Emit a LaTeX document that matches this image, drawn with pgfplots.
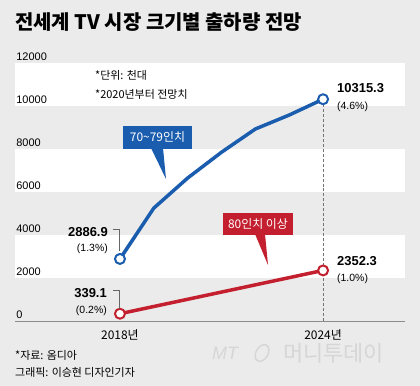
\documentclass[border=0pt]{standalone}
\usepackage{fontspec}
\setmainfont{Liberation Sans}
\newfontfamily\kr{Noto Sans CJK KR}
\usepackage{pgfplots}
\pgfplotsset{compat=1.18}
\definecolor{bg}{HTML}{EBEBEB}
\definecolor{tvblue}{HTML}{1A5CAD}
\definecolor{tvred}{HTML}{C41F2E}
\begin{document}
\begin{tikzpicture}
\fill[bg] (0,0) rectangle (420bp,386bp);
\begin{axis}[
 at={(15bp,65bp)}, anchor=south west, scale only axis, width=390bp, height=258bp,
 xmin=2014.9, xmax=2026.42, ymin=0, ymax=12000,
 axis on top,
 axis x line=bottom, axis y line=left,
 x axis line style={-, draw=black!45, line width=0.6bp},
 y axis line style={draw=none},
 tick style={draw=none},
 xtick={2018,2024}, xticklabels={2018년,2024년},
 xticklabel style={font=\kr\fontsize{12}{12}\selectfont, yshift=-3bp},
 ytick={0,2000,4000,6000,8000,10000,12000},
 yticklabel style={anchor=south west, font=\fontsize{11}{11}\selectfont, xshift=0bp, yshift=-1bp},
 /pgf/number format/assume math mode=true,
 /pgf/number format/1000 sep={},
 scaled y ticks=false,
 clip=false,
]
\fill[white] (axis cs:2014.9,2000) rectangle (axis cs:2026.42,4000);
\fill[white] (axis cs:2014.9,6000) rectangle (axis cs:2026.42,8000);
\fill[white] (axis cs:2014.9,10000) rectangle (axis cs:2026.42,12000);
\addplot[draw=black!55, densely dashed, line width=0.6bp, forget plot] coordinates {(2024,0) (2024,10315.3)};
\addplot[tvblue, line width=3.5bp, line join=round, mark=*, mark size=5bp, mark indices={1,7}, mark options={fill=white, line width=2bp, solid}] coordinates {
(2018,2886.9) (2019,5250) (2020,6650) (2021,7850) (2022,8930) (2023,9580) (2024,10315.3)};
\addplot[tvred, line width=3.5bp, line join=round, mark=*, mark size=5bp, mark options={fill=white, line width=2bp, solid}] coordinates {
(2018,339.1) (2024,2352.3)};
\end{axis}
\begin{scope}[yshift=386bp, x=1bp, y=-1bp]
\node[anchor=west, inner sep=0, font=\kr\bfseries\fontsize{20}{20}\selectfont] at (15,22) {전세계 TV 시장 크기별 출하량 전망};
\node[anchor=west, inner sep=0, font=\kr\fontsize{11}{12}\selectfont] at (95,75) {*단위: 천대};
\node[anchor=west, inner sep=0, font=\kr\fontsize{11}{12}\selectfont] at (95,94) {*2020년부터 전망치};
% callouts
\fill[tvblue] (123,126) rectangle (192,149);
\fill[tvblue] (151,148) -- (163,148) -- (166,179) -- cycle;
\node[white, inner sep=0, font=\kr\fontsize{12}{12}\selectfont] at (157.5,137.5) {70\textasciitilde79인치};
\fill[tvred] (223,213) rectangle (293,235);
\fill[tvred] (255,234) -- (265,234) -- (268,265) -- cycle;
\node[white, inner sep=0, font=\kr\fontsize{12}{12}\selectfont] at (258,224) {80인치 이상};
% value labels
\node[anchor=west, inner sep=0, font=\bfseries\fontsize{13}{13}\selectfont] at (337,88) {10315.3};
\node[anchor=west, inner sep=0, font=\fontsize{10.5}{11}\selectfont] at (337,107) {(4.6\%)};
\node[anchor=west, inner sep=0, font=\bfseries\fontsize{13}{13}\selectfont] at (337,261) {2352.3};
\node[anchor=west, inner sep=0, font=\fontsize{10.5}{11}\selectfont] at (337,279) {(1.0\%)};
\node[anchor=east, inner sep=0, font=\bfseries\fontsize{13}{13}\selectfont] at (108,232) {2886.9};
\node[anchor=east, inner sep=0, font=\fontsize{10.5}{11}\selectfont] at (108,249) {(1.3\%)};
\node[anchor=east, inner sep=0, font=\bfseries\fontsize{13}{13}\selectfont] at (107,293) {339.1};
\node[anchor=east, inner sep=0, font=\fontsize{10.5}{11}\selectfont] at (107,311) {(0.2\%)};
\draw[black!60, line width=0.5bp] (113,229) -- (119.5,229) -- (119.5,251);
\draw[black!60, line width=0.5bp] (113,290) -- (119.5,290) -- (119.5,309);
% footer
\node[anchor=west, inner sep=0, font=\kr\fontsize{11}{11}\selectfont] at (15,355) {*자료: 옴디아};
\node[anchor=west, inner sep=0, font=\kr\fontsize{11}{11}\selectfont] at (15,372) {그래픽: 이승현 디자인기자};
\node[anchor=west, inner sep=0, text=black!16, font=\itshape\fontsize{18}{18}\selectfont] at (212,353) {MT};
\draw[black!16, line width=1.5bp, rotate around={60:(262,353)}] (262,353) ellipse (9 and 6);
\node[anchor=west, inner sep=0, text=black!16, font=\kr\fontsize{22}{22}\selectfont] at (283,353) {머니투데이};
\end{scope}
\end{tikzpicture}
\end{document}
